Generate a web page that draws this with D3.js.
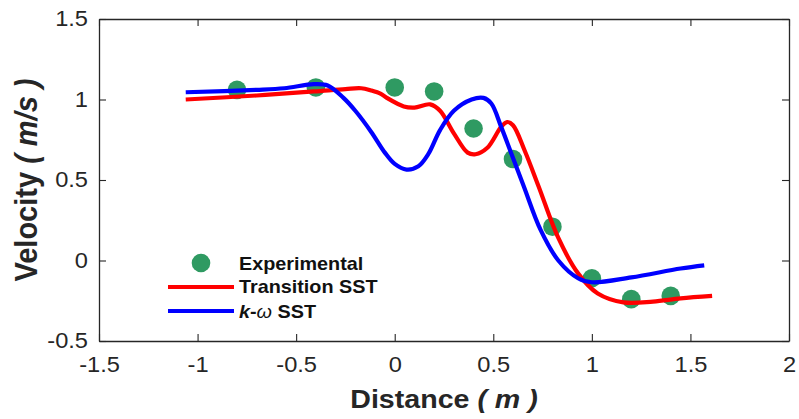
<!DOCTYPE html>
<html>
<head>
<meta charset="utf-8">
<script src="https://cdn.jsdelivr.net/npm/d3@7"></script>
<style>
  html, body { margin: 0; padding: 0; background: #fff; }
  svg { display: block; font-family: "Liberation Sans", Arial, Helvetica, sans-serif; }
</style>
</head>
<body>
<svg id="chart" width="799" height="419"></svg>
<script>
// Measured velocity samples
const expDistance = [-0.8, -0.4, 0.0, 0.2, 0.4, 0.6, 0.8, 1.0, 1.2, 1.4];
const expVelocity = [1.06, 1.075, 1.075, 1.05, 0.82, 0.63, 0.21, -0.11, -0.24, -0.22];

// Transition SST profile
const transDistance = [-1.06, -0.7, -0.41, -0.25, -0.17, -0.12, -0.07, -0.04, 0.046, 0.10, 0.18, 0.23, 0.30, 0.37, 0.41, 0.47, 0.54, 0.57, 0.60, 0.66, 0.73, 0.83, 0.93, 1.03, 1.16, 1.31, 1.45, 1.61];
const transVelocity = [1.00, 1.025, 1.05, 1.065, 1.07, 1.056, 1.035, 1.01, 0.957, 0.95, 0.97, 0.93, 0.79, 0.67, 0.66, 0.70, 0.83, 0.86, 0.84, 0.68, 0.46, 0.14, -0.08, -0.205, -0.26, -0.255, -0.235, -0.22];

// k-omega SST profile
const kwDistance = [-1.06, -0.7, -0.56, -0.41, -0.34, -0.26, -0.20, -0.12, -0.05, 0.0, 0.06, 0.12, 0.17, 0.23, 0.30, 0.39, 0.45, 0.49, 0.54, 0.59, 0.655, 0.74, 0.83, 0.93, 1.0, 1.2, 1.45, 1.57];
const kwVelocity = [1.045, 1.06, 1.07, 1.095, 1.087, 1.01, 0.93, 0.80, 0.67, 0.60, 0.565, 0.585, 0.66, 0.81, 0.93, 1.0, 1.01, 0.975, 0.83, 0.67, 0.46, 0.19, 0.0, -0.11, -0.135, -0.105, -0.05, -0.03];

const xTicks = [-1.5, -1, -0.5, 0, 0.5, 1, 1.5, 2];
const xTickLabels = ["-1.5", "-1", "-0.5", "0", "0.5", "1", "1.5", "2"];
const yTicks = [-0.5, 0, 0.5, 1, 1.5];
const yTickLabels = ["-0.5", "0", "0.5", "1", "1.5"];

const svg = d3.select("#chart");
const plot = { left: 99, right: 789, top: 19, bottom: 341 };
const axisColor = "#262626";
const stretch = "scale(1.1,1)";

const x = d3.scaleLinear().domain([-1.5, 2]).range([plot.left, plot.right]);
const y = d3.scaleLinear().domain([-0.5, 1.5]).range([plot.bottom, plot.top]);

function styleAxis(g) {
  g.select(".domain").attr("stroke", axisColor).attr("stroke-width", 1.3);
  g.selectAll(".tick line").attr("stroke", axisColor).attr("stroke-width", 1.1);
  g.selectAll(".tick text").attr("fill", axisColor).attr("font-size", 21.5)
    .attr("font-family", "\"Liberation Sans\", Arial, sans-serif");
}

// Bottom axis with labels
svg.append("g")
  .attr("transform", `translate(0,${plot.bottom})`)
  .call(d3.axisBottom(x).tickValues(xTicks).tickFormat((d, i) => xTickLabels[i])
    .tickSizeInner(-7).tickSizeOuter(0).tickPadding(16))
  .call(styleAxis)
  .call(g => g.selectAll(".tick text").attr("transform", stretch));

// Left axis with labels
svg.append("g")
  .attr("transform", `translate(${plot.left},0)`)
  .call(d3.axisLeft(y).tickValues(yTicks).tickFormat((d, i) => yTickLabels[i])
    .tickSizeInner(-7).tickSizeOuter(0).tickPadding(10))
  .call(styleAxis)
  .call(g => g.selectAll(".tick text").attr("transform", stretch));

// Top and right box edges with inward ticks
svg.append("g")
  .attr("transform", `translate(0,${plot.top})`)
  .call(d3.axisTop(x).tickValues(xTicks).tickFormat("").tickSizeInner(-7).tickSizeOuter(0))
  .call(styleAxis);
svg.append("g")
  .attr("transform", `translate(${plot.right},0)`)
  .call(d3.axisRight(y).tickValues(yTicks).tickFormat("").tickSizeInner(-7).tickSizeOuter(0))
  .call(styleAxis);

// Experimental points
const green = "#2f9a62";
svg.append("g").selectAll("circle")
  .data(expDistance.map((d, i) => [d, expVelocity[i]]))
  .join("circle")
  .attr("cx", d => x(d[0]))
  .attr("cy", d => y(d[1]))
  .attr("r", 9.3)
  .attr("fill", green);

// Simulation curves
const line = d3.line().x(d => x(d[0])).y(d => y(d[1])).curve(d3.curveCatmullRom.alpha(0.5));
svg.append("path")
  .datum(transDistance.map((d, i) => [d, transVelocity[i]]))
  .attr("d", line)
  .attr("fill", "none").attr("stroke", "#ff0000").attr("stroke-width", 4.2)
  .attr("stroke-linejoin", "round");
svg.append("path")
  .datum(kwDistance.map((d, i) => [d, kwVelocity[i]]))
  .attr("d", line)
  .attr("fill", "none").attr("stroke", "#0000ff").attr("stroke-width", 4.2)
  .attr("stroke-linejoin", "round");

// Legend
const legend = svg.append("g").attr("font-weight", "bold").attr("font-size", 18).attr("fill", "#111");
legend.append("circle").attr("cx", 201).attr("cy", 263).attr("r", 9.3).attr("fill", green);
legend.append("line").attr("x1", 168).attr("x2", 234).attr("y1", 287).attr("y2", 287)
  .attr("stroke", "#ff0000").attr("stroke-width", 4.2);
legend.append("line").attr("x1", 168).attr("x2", 234).attr("y1", 311).attr("y2", 311)
  .attr("stroke", "#0000ff").attr("stroke-width", 4.2);
legend.append("text").attr("transform", `translate(239,270) ${stretch}`).text("Experimental");
legend.append("text").attr("transform", `translate(239,293) ${stretch}`).text("Transition SST");
const kw = legend.append("text").attr("transform", `translate(239,318) ${stretch}`);
kw.append("tspan").attr("font-style", "italic").text("k");
kw.append("tspan").text("-");
kw.append("tspan").attr("font-style", "italic").attr("font-weight", "normal").text("ω");
kw.append("tspan").text(" SST");

// Axis titles
const xTitle = svg.append("text")
  .attr("transform", `translate(${(plot.left + plot.right) / 2},408) ${stretch}`)
  .attr("text-anchor", "middle").attr("font-size", 26).attr("font-weight", "bold").attr("fill", "#262626");
xTitle.append("tspan").text("Distance ");
xTitle.append("tspan").attr("font-style", "italic").text("( m )");

const yTitle = svg.append("text")
  .attr("transform", `translate(37,${(plot.top + plot.bottom) / 2}) ${stretch} rotate(-90)`)
  .attr("text-anchor", "middle").attr("font-size", 29).attr("font-weight", "bold").attr("fill", "#262626");
yTitle.append("tspan").text("Velocity ");
yTitle.append("tspan").attr("font-style", "italic").text("( m/s )");
</script>
</body>
</html>
